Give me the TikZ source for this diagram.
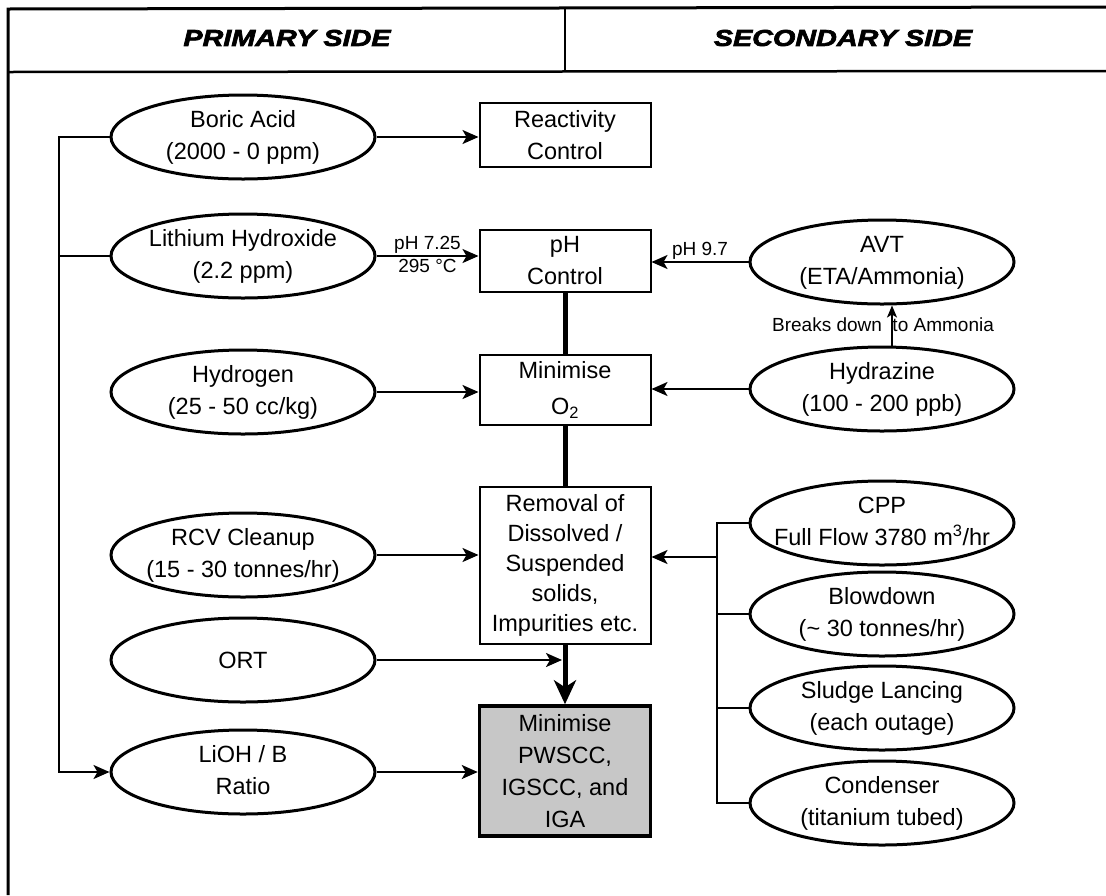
\documentclass[tikz,border=0pt]{standalone}
\usepackage{fontspec}
\setmainfont{Liberation Sans}
\newfontfamily\headfont[FakeStretch=1.25,FakeBold=3]{Liberation Sans}
\usetikzlibrary{shapes.geometric,arrows.meta}
\newcommand{\ovaltext}[2]{\makebox[0pt]{\begin{tabular}{@{}c@{}}#1\\#2\end{tabular}}}

\begin{document}
\begin{tikzpicture}[x=1pt, y=-1pt,
  oval/.style={draw, ellipse, line width=3pt, minimum width=264pt, minimum height=84pt, inner xsep=0pt, inner ysep=-2.5pt},
  box/.style={draw, rectangle, line width=2pt, minimum width=171pt, align=center, inner sep=1pt},
  arrow/.style={-{Stealth[length=16pt,width=14pt,inset=4pt]}, line width=2pt},
  line/.style={line width=2pt},
  trunk/.style={line width=5pt},
  lbl/.style={font=\fontsize{19}{22}\selectfont, inner sep=2pt},
  head/.style={font=\headfont\bfseries\itshape\fontsize{23}{26}\selectfont},
  every node/.append style={font=\fontsize{23.5}{32}\selectfont}
]
\useasboundingbox (0,0) rectangle (1106,895);

% frame and header
\draw[line width=3pt] (8,895) -- (8,9) -- (1106,7);
\draw[line width=2.5pt] (8,72) -- (1106,71);
\draw[line width=1.2pt] (565,9) -- (565,72);
\node[head] (prim) at (287,38) {PRIMARY SIDE};
\node[head] (sec) at (843,38) {SECONDARY SIDE};

% primary side
\node[oval] (boric) at (243,137) {\ovaltext{Boric Acid}{(2000 - 0 ppm)}};
\node[oval] (lith) at (243,256) {\ovaltext{Lithium Hydroxide}{(2.2 ppm)}};
\node[oval] (hyd) at (243,392) {\ovaltext{Hydrogen}{(25 - 50 cc/kg)}};
\node[oval] (rcv) at (243,555) {\ovaltext{RCV Cleanup}{(15 - 30 tonnes/hr)}};
\node[oval] (ort) at (243,660) {ORT};
\node[oval] (lioh) at (243,772) {\ovaltext{LiOH / B}{Ratio}};

% control boxes
\node[box, minimum height=64pt] (react) at (565,135) {Reactivity\\Control};
\node[box, minimum height=62pt] (ph) at (565,261) {pH\\Control};
\node[box, minimum height=70pt, font=\fontsize{23.5}{36}\selectfont] (mino2) at (565,390) {Minimise\\O\textsubscript{2}};
\node[box, minimum height=157pt, font=\fontsize{23.5}{30}\selectfont] (removal) at (565,565) {Removal of\\Dissolved /\\Suspended\\solids,\\Impurities etc.};
\node[box, line width=3.5pt, fill=black!22, minimum height=130pt] (pwscc) at (565,771) {Minimise\\PWSCC,\\IGSCC, and\\IGA};

% secondary side
\node[oval] (avt) at (882,262) {\ovaltext{AVT}{(ETA/Ammonia)}};
\node[oval] (hydz) at (882,389) {\ovaltext{Hydrazine}{(100 - 200 ppb)}};
\node[oval] (cpp) at (882,523) {\ovaltext{CPP}{Full Flow 3780 m\textsuperscript{3}/hr}};
\node[oval] (blow) at (882,614) {\ovaltext{Blowdown}{(\textasciitilde{} 30 tonnes/hr)}};
\node[oval] (sludge) at (882,708) {\ovaltext{Sludge Lancing}{(each outage)}};
\node[oval] (cond) at (882,803) {\ovaltext{Condenser}{(titanium tubed)}};

% left feed line
\coordinate (lbus) at (59,772);
\draw[arrow] (boric.west) -| (lbus) -- (lioh.west);
\draw[line] (lith.west) -- (lith.west -| lbus);

% right feed line
\coordinate (rbus) at (717,557);
\draw[line] (cpp.west) -| (rbus);
\draw[line] (cond.west) -| (rbus);
\draw[line] (blow.west) -- (blow.west -| rbus);
\draw[line] (sludge.west) -- (sludge.west -| rbus);
\draw[arrow] (rbus) -- (rbus -| removal.east);

\draw[arrow] (boric.east) -- (boric.east -| react.west);
\draw[arrow] (lith.east) -- (lith.east -| ph.west) node[lbl, midway, above] {pH 7.25} node[lbl, midway, below] {295 °C};
\draw[arrow] (avt.west) -- (avt.west -| ph.east) node[lbl, midway, above] {pH 9.7};
\draw[arrow] (hyd.east) -- (hyd.east -| mino2.west);
\draw[arrow] (hydz.west) -- (hydz.west -| mino2.east);
\draw[arrow] (rcv.east) -- (rcv.east -| removal.west);
\draw[arrow, shorten >=3pt] (ort.east) -- (ort.east -| removal.south);
\draw[arrow] (lioh.east) -- (lioh.east -| pwscc.west);

\node[lbl] (breaks) at (883,325) {Breaks down \ to Ammonia};
\draw[-{Stealth[length=12pt,width=10pt,inset=3pt]}, line width=1.5pt] ([xshift=10pt]hydz.north) -- ([xshift=10pt]avt.south);

% main chain
\draw[trunk] (ph.south) -- (mino2.north);
\draw[trunk] (mino2.south) -- (removal.north);
\draw[trunk, -{Stealth[length=24pt,width=22pt,inset=7pt]}] (removal.south) -- (pwscc.north);
\end{tikzpicture}
\end{document}
